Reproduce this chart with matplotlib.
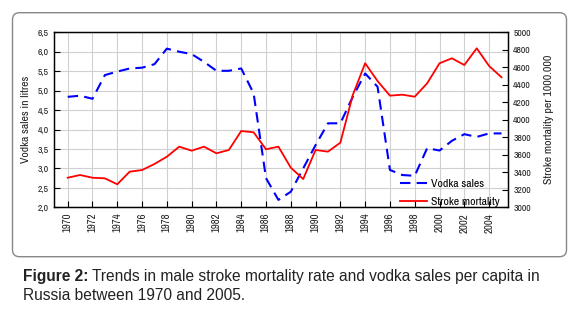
import matplotlib.pyplot as plt
from matplotlib.patches import FancyBboxPatch
from matplotlib.ticker import FuncFormatter

plt.rcParams['font.family'] = ['Archivo Narrow', 'Liberation Sans',
                               'DejaVu Sans']

years = list(range(1970, 2006))
vodka = [4.84, 4.87, 4.79, 5.40, 5.49, 5.57, 5.59, 5.68, 6.08, 6.00,
         5.94, 5.74, 5.51, 5.51, 5.57, 4.93, 2.75, 2.19, 2.40, 3.00,
         3.60, 4.16, 4.16, 4.84, 5.44, 5.10, 2.96, 2.83, 2.81, 3.52,
         3.46, 3.71, 3.88, 3.81, 3.90, 3.90]
stroke = [3338, 3369, 3338, 3331, 3263, 3407, 3426, 3495, 3578, 3693,
          3647, 3693, 3617, 3655, 3872, 3857, 3663, 3693, 3453, 3323,
          3655, 3636, 3739, 4283, 4646, 4443, 4276, 4287, 4264, 4417,
          4646, 4703, 4626, 4817, 4615, 4486]
xticks = list(range(1970, 2005, 2))
left_ticks = [2.0, 2.5, 3.0, 3.5, 4.0, 4.5, 5.0, 5.5, 6.0, 6.5]
right_ticks = list(range(3000, 5001, 200))

fig = plt.figure(figsize=(5.84, 3.09), dpi=100)

# rounded frame around the chart
frame = FancyBboxPatch((12.5 / 584, 1 - 256.7 / 309), 554 / 584, 244 / 309,
                       boxstyle="round,pad=0,rounding_size=0.012",
                       mutation_aspect=584 / 309,
                       transform=fig.transFigure, facecolor='white',
                       edgecolor='#888888', linewidth=1.0, zorder=-5)
fig.patches.append(frame)

ax = fig.add_axes([54.3 / 584, 1 - 207.3 / 309, 453.4 / 584, 175 / 309])
ax2 = ax.twinx()

l1, = ax.plot(years, vodka, color='#0000ff', lw=1.5, dashes=(5, 3),
              label='Vodka sales')
l2, = ax2.plot(years, stroke, color='#ff0000', lw=1.3,
               label='Stroke mortality')

ax.set_xlim(1968.92, 2005.5)
ax.set_ylim(2.0, 6.5)
ax2.set_ylim(3000, 5000)
ax.set_xticks(xticks)
ax.set_xticklabels([str(y) for y in xticks], rotation=90)
ax.set_yticks(left_ticks)
ax.yaxis.set_major_formatter(
    FuncFormatter(lambda v, p: f"{v:.1f}".replace('.', ',')))
ax2.set_yticks(right_ticks)

ax.grid(True, color='#d0d0d0', lw=0.8)
ax.set_axisbelow(True)
ax.tick_params(axis='x', labelsize=7.8)
ax.tick_params(axis='y', labelsize=7)
ax2.tick_params(axis='y', labelsize=7)
for a in (ax, ax2):
    a.tick_params(direction='in', length=4, width=0.8, pad=4,
                  color='black', labelcolor='#222222')
    for s in a.spines.values():
        s.set_color('black')
        s.set_linewidth(0.9)

ax.set_ylabel('Vodka sales in litres', fontsize=8.4, color='#222222',
              labelpad=5)
ax2.set_ylabel('Stroke mortality per 1000.000', fontsize=8.5,
               color='#222222', labelpad=9)

fig.legend(handles=[l1, l2], loc='lower left',
           bbox_to_anchor=(400 / 584, 1 - 207 / 309), frameon=False,
           fontsize=8.5, handlelength=2.3, handletextpad=0.35,
           labelspacing=0.65, borderpad=0, borderaxespad=0)

cap = ['Liberation Sans', 'DejaVu Sans']
t1 = fig.text(22.7 / 584, 1 - 276.7 / 309, 'Figure 2:', fontsize=11.2,
              fontweight='bold', va='center', color='#222222', family=cap)
plt.annotate(' Trends in male stroke mortality rate and vodka sales per capita in',
             xy=(1, 0.5), xycoords=t1, va='center', fontsize=11.2,
             color='#222222', annotation_clip=False, family=cap)
fig.text(22.7 / 584, 1 - 296 / 309, 'Russia between 1970 and 2005.',
         fontsize=11.2, va='center', color='#222222', family=cap)

fig.savefig('out.png', dpi=100)
